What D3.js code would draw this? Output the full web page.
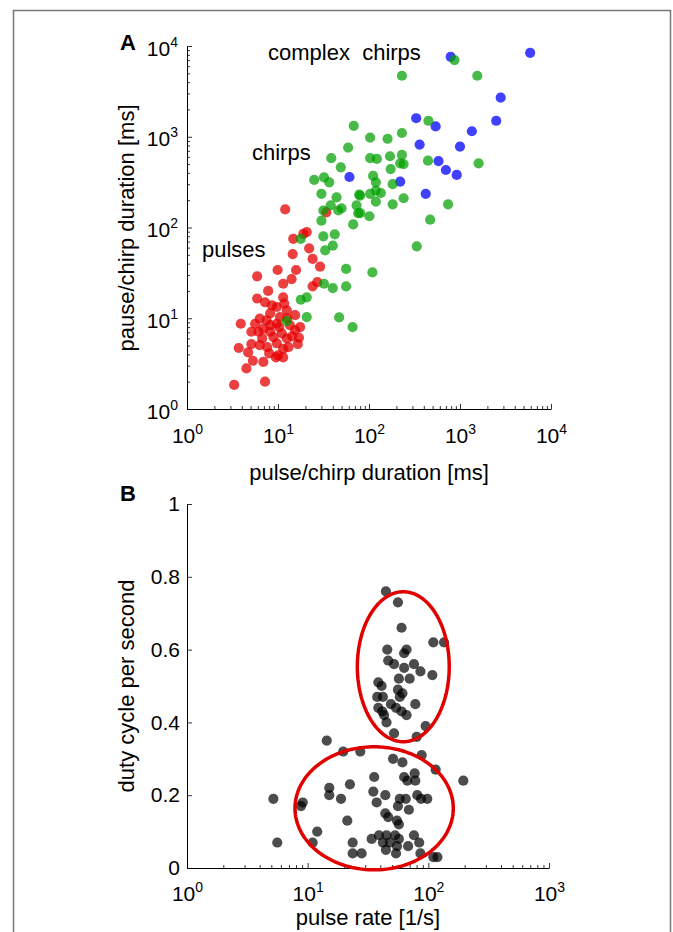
<!DOCTYPE html>
<html>
<head>
<meta charset="utf-8">
<script src="https://cdn.jsdelivr.net/npm/d3@7"></script>
<style>
  body { margin: 0; background: #fff; }
  svg { display: block; }
  text { font-family: "Liberation Sans", Arial, Helvetica, sans-serif; fill: #000; }
</style>
</head>
<body>
<svg id="chart" width="673" height="932"></svg>
<script>
// ---- data ----
// panel A: [pulse/chirp duration ms, pause/chirp duration ms]
var pulses = [[12,158],[34,147],[20.7,89],[19,85],[14.7,75],[14.5,51],[22,59],[24,45],[29,37],[15.8,34],[9.9,34],
  [14.1,27],[27,25],[24,22.5],[11.4,24],[5.9,29],[7.8,20],[5.9,16.5],[7.2,15],[11.4,17],[11.7,14.5],[9.7,13.3],
  [12.5,12.2],[8.2,11.3],[15.4,10.8],[6.3,9.9],[10.5,10.3],[3.9,8.7],[5.6,8.7],[7.5,9.5],[8.2,8.4],[6.9,7.7],
  [9.7,8.7],[13.5,8.4],[17.5,8],[5.1,7.1],[6.1,7.1],[8.2,7.1],[11,6.8],[15.4,7.4],[8.9,6.2],[12.5,6],[17,6.1],
  [5.1,5.2],[6.3,5.05],[7.6,4.8],[9.7,5.3],[13,4.8],[16.5,5.2],[3.7,4.7],[4.7,4.2],[8,4.1],[10,3.9],[5.3,3.4],
  [6.9,3.3],[9.5,3.7],[11.4,3.7],[4.5,2.8],[7.2,2.0],[3.3,1.84],
  [8.6,13.9],[12.6,10],[10.3,8],[14.3,6.3],[6.7,6],[11.4,4.6]];
var complexChirps = [[790,7600],[5900,8400],[2800,2700],[2500,1500],[330,1600],[540,1300],[1350,1150],[360,820],
  [1000,780],[580,540],[700,430],[920,380],[220,320],[420,235],[61,360]];
var chirps = [[870,7000],[230,4700],[1550,4700],[450,1500],[103,980],[160,950],[230,1100],[103,580],[122,570],
  [170,610],[230,630],[220,510],[240,500],[445,545],[1600,510],[173,440],[111,370],[119,315],[182,300],[80,225],
  [103,235],[119,255],[135,240],[240,210],[119,193],[182,180],[740,180],[80,144],[101,133],[470,122],[335,62],
  [109,32],[68,1320],[59,760],[38.5,580],[49,460],[25,335],[32,357],[36.6,315],[30,235],[44,215],[78,230],
  [38,175],[50,163],[73,175],[31.5,154],[46,154],[76,144],[30,119],[67,108],[42,84],[31.5,80],[17.8,75],
  [33,56],[40,63],[56,35],[32,24],[40,21.5],[56,22.5],[20.7,17],[17.8,16],[20.7,10.3],[47,10.2],[66,8],[12.5,9.3]];

// panel B: [pulse rate 1/s, duty cycle per second]
var rateDuty = [[14.4,0.35],[19.7,0.32],[27.3,0.32],[5.2,0.19],[5.6,0.07],[9.1,0.18],[8.8,0.17],[15.1,0.22],
  [15.1,0.20],[18.9,0.19],[22.4,0.23],[21.3,0.13],[12,0.10],[11,0.07],[23.6,0.07],[23.6,0.04],[28,0.04],
  [33.9,0.08],[35.6,0.25],[35,0.21],[37.3,0.18],[38.5,0.51],[37.7,0.47],[38.5,0.44],
  [44.5,0.76],[56,0.73],[60,0.66],[110,0.62],[135,0.62],[45.7,0.60],[66,0.60],[63,0.59],[46.5,0.57],[52,0.56],
  [63,0.55],[76,0.56],[86,0.54],[108,0.53],[57,0.52],[70,0.52],[41,0.50],[56,0.49],[61,0.48],[58,0.47],
  [42,0.47],[49,0.45],[54,0.44],[78,0.45],[41.5,0.43],[60,0.43],[66,0.42],[43,0.42],[45,0.40],[95,0.39],
  [52,0.37],[80,0.36],[88,0.31],[51,0.30],[61,0.29],[115,0.27],[195,0.24],[77,0.26],[63,0.25],[67,0.24],
  [78,0.24],[44,0.20],[58,0.19],[65,0.19],[81,0.20],[87,0.19],[98,0.19],[56,0.17],[69,0.16],[44,0.15],
  [46.5,0.14],[55,0.13],[57,0.12],[39,0.09],[45,0.09],[53,0.09],[57,0.08],[42,0.07],[48,0.07],[55,0.06],
  [76,0.09],[84,0.07],[68,0.06],[44.5,0.05],[54,0.04],[86,0.04],[110,0.03],[119,0.03]];

// the two red ellipses in B: [min, max] extents in rate and duty cycle
var ellipseRate = [[25.8, 149], [7.85, 161]];
var ellipseDuty = [[0.347, 0.759], [-0.005, 0.333]];

var decadesA = [1, 10, 100, 1000, 10000];
var decadesB = [1, 10, 100, 1000];
var dutyTicks = [0, 0.2, 0.4, 0.6, 0.8, 1];
var dutyTickLabels = ["0", "0.2", "0.4", "0.6", "0.8", "1"];

var svg = d3.select("#chart");

// figure frame
svg.append("rect")
   .attr("x", 13.5).attr("y", 10.5)
   .attr("width", 657).attr("height", 940)
   .attr("fill", "none").attr("stroke", "#777").attr("stroke-width", 1.5);

function minorTicks(decades) {
   var out = [];
   for (var i = 0; i < decades.length - 1; i++) {
      for (var m = 2; m <= 9; m++) out.push(decades[i] * m);
   }
   return out;
}

function powerLabels(sel) {
   sel.each(function(d) {
      var t = d3.select(this).text(null);
      t.append("tspan").text("10");
      t.append("tspan").attr("font-size", 14).attr("dy", -9).text(Math.round(Math.log10(d)));
   });
}

function styleAxis(g) {
   g.selectAll(".domain").attr("stroke", "#000").attr("stroke-width", 1);
   g.selectAll(".tick line").attr("stroke", "#000").attr("stroke-width", 0.8);
   g.selectAll("text").attr("font-size", 21).attr("fill", "#000");
}

function dots(g, data, x, y, color, op) {
   g.append("g").selectAll("circle")
      .data(data).enter().append("circle")
      .attr("cx", function(d) { return x(d[0]); })
      .attr("cy", function(d) { return y(d[1]); })
      .attr("r", 5.1)
      .attr("fill", color)
      .attr("fill-opacity", op);
}

// ================= panel A =================
var xA = d3.scaleLog().domain([1, 10000]).range([187, 551]);
var yA = d3.scaleLog().domain([1, 10000]).range([409, 46]);

var gA = svg.append("g");

gA.append("g").attr("transform", "translate(0,409)")
   .call(d3.axisBottom(xA).tickValues(minorTicks(decadesA)).tickSize(-3).tickSizeOuter(0).tickFormat(""))
   .call(styleAxis);
var axAx = gA.append("g").attr("transform", "translate(0,409)")
   .call(d3.axisBottom(xA).tickValues(decadesA).tickSize(-5).tickSizeOuter(0))
   .call(styleAxis);
axAx.select(".domain").remove();
axAx.selectAll("text").attr("y", 34).attr("dy", 0).call(powerLabels);

gA.append("g").attr("transform", "translate(187,0)")
   .call(d3.axisLeft(yA).tickValues(minorTicks(decadesA)).tickSize(-3).tickSizeOuter(0).tickFormat(""))
   .call(styleAxis);
var ayAx = gA.append("g").attr("transform", "translate(187,0)")
   .call(d3.axisLeft(yA).tickValues(decadesA).tickSize(-5).tickSizeOuter(0))
   .call(styleAxis);
ayAx.select(".domain").remove();
ayAx.selectAll("text").attr("x", -9).attr("dy", 0).attr("y", 9).call(powerLabels);

dots(gA, pulses, xA, yA, "#e60000", 0.75);
dots(gA, complexChirps, xA, yA, "#0000ff", 0.75);
dots(gA, chirps, xA, yA, "#00a000", 0.72);

gA.append("text").attr("x", 268).attr("y", 60).attr("font-size", 22)
   .attr("xml:space", "preserve").text("complex  chirps");
gA.append("text").attr("x", 252).attr("y", 160).attr("font-size", 22).text("chirps");
gA.append("text").attr("x", 202).attr("y", 257).attr("font-size", 22).text("pulses");

gA.append("text").attr("x", 369).attr("y", 480).attr("font-size", 22)
   .attr("text-anchor", "middle").text("pulse/chirp duration [ms]");
gA.append("text").attr("transform", "translate(134,228) rotate(-90)").attr("font-size", 22)
   .attr("text-anchor", "middle").text("pause/chirp duration [ms]");
gA.append("text").attr("x", 120).attr("y", 50).attr("font-size", 22)
   .attr("font-weight", "bold").text("A");

// ================= panel B =================
var xB = d3.scaleLog().domain([1, 1000]).range([187, 549]);
var yB = d3.scaleLinear().domain([0, 1]).range([868, 504]);

var gB = svg.append("g");

gB.append("g").attr("transform", "translate(0,868)")
   .call(d3.axisBottom(xB).tickValues(minorTicks(decadesB)).tickSize(-3).tickSizeOuter(0).tickFormat(""))
   .call(styleAxis);
var bxAx = gB.append("g").attr("transform", "translate(0,868)")
   .call(d3.axisBottom(xB).tickValues(decadesB).tickSize(-5).tickSizeOuter(0))
   .call(styleAxis);
bxAx.select(".domain").remove();
bxAx.selectAll("text").attr("y", 33).attr("dy", 0).call(powerLabels);

var byAx = gB.append("g").attr("transform", "translate(187,0)")
   .call(d3.axisLeft(yB).tickValues(dutyTicks).tickSize(-5).tickSizeOuter(0)
      .tickFormat(function(d, i) { return dutyTickLabels[i]; }))
   .call(styleAxis);
byAx.selectAll("text").attr("x", -7);

dots(gB, rateDuty, xB, yB, "#000", 0.7);

// ellipses, traced in log-rate space through the scales
ellipseRate.forEach(function(r, i) {
   var lx0 = Math.log10(r[0]), lx1 = Math.log10(r[1]);
   var cx = (lx0 + lx1) / 2, rx = (lx1 - lx0) / 2;
   var cy = (ellipseDuty[i][0] + ellipseDuty[i][1]) / 2, ry = (ellipseDuty[i][1] - ellipseDuty[i][0]) / 2;
   var pts = d3.range(0, 2 * Math.PI, Math.PI / 90).map(function(t) {
      return [xB(Math.pow(10, cx + rx * Math.cos(t))), yB(cy + ry * Math.sin(t))];
   });
   gB.append("path")
      .attr("d", d3.line().curve(d3.curveLinearClosed)(pts))
      .attr("fill", "none").attr("stroke", "#e00000").attr("stroke-width", 3.5);
});

gB.append("text").attr("x", 368).attr("y", 925).attr("font-size", 22)
   .attr("text-anchor", "middle").text("pulse rate [1/s]");
gB.append("text").attr("transform", "translate(134,686) rotate(-90)").attr("font-size", 22)
   .attr("text-anchor", "middle").text("duty cycle per second");
gB.append("text").attr("x", 120).attr("y", 501).attr("font-size", 22)
   .attr("font-weight", "bold").text("B");
</script>
</body>
</html>
